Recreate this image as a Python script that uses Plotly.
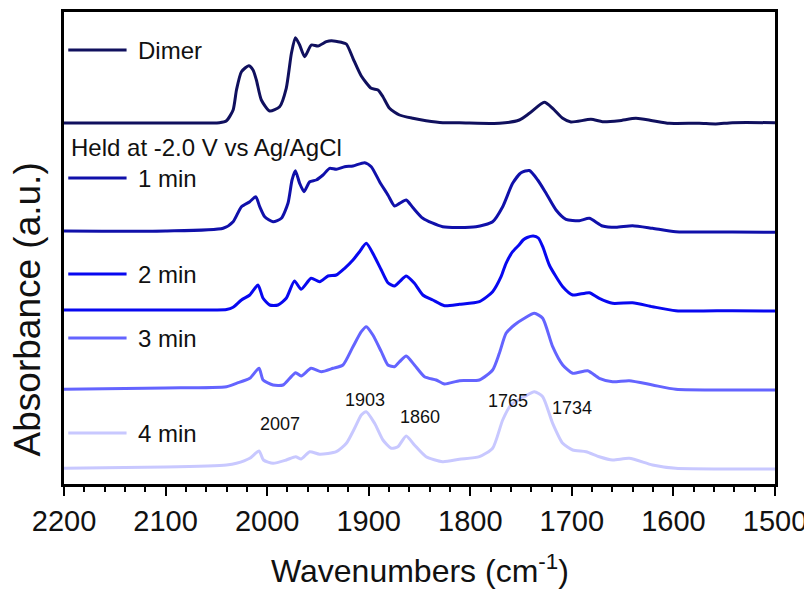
import plotly.graph_objects as go

# ---- data (stacked absorbance, arbitrary units) ----
dimer_wn = [2200, 2100, 2047, 2040, 2033.5, 2030.2, 2025.3, 2018.1, 2013.9, 2010.6, 2005.7, 1997.5, 1987.7, 1981.2,
            1976.1, 1972.2, 1968, 1963.1, 1956.5, 1950, 1941.7, 1936.8, 1927, 1922, 1915.5, 1907.3, 1897.5, 1890.9,
            1886, 1879.5, 1869.7, 1856.6, 1843.5, 1827, 1810.7, 1771.3, 1751.7, 1741.8, 1727.1, 1718.9, 1709,
            1700.9, 1681.2, 1669.8, 1653.4, 1636.9, 1620.6, 1604.2, 1574.7, 1558.3, 1542, 1500]
dimer_abs = [3.61, 3.61, 3.613, 3.633, 3.74, 3.94, 4.123, 4.183, 4.14, 4.04, 3.84, 3.73, 3.773, 3.957,
             4.307, 4.463, 4.39, 4.273, 4.39, 4.38, 4.423, 4.433, 4.417, 4.40, 4.257, 4.08, 3.957, 3.94,
             3.873, 3.757, 3.69, 3.657, 3.633, 3.613, 3.613, 3.607, 3.64, 3.707, 3.817, 3.757, 3.657,
             3.62, 3.647, 3.623, 3.633, 3.657, 3.633, 3.607, 3.607, 3.60, 3.613, 3.613]

min1_wn = [2200, 2100, 2043.3, 2033.5, 2025.3, 2017.1, 2011.2, 2007.3, 2002.4, 1994.2, 1986, 1979.5, 1975.5,
           1972.2, 1968, 1963.7, 1958.1, 1951.6, 1945, 1938.5, 1931.9, 1923.7, 1915.5, 1904, 1897.5, 1889.3,
           1881.1, 1874.6, 1869.6, 1863.1, 1856.6, 1846.7, 1827.2, 1794.4, 1778, 1768.1, 1758.3, 1750, 1741.8,
           1733.6, 1725.4, 1715.6, 1705.8, 1692.7, 1682.8, 1669.8, 1656.6, 1640.3, 1620.6, 1597.7, 1542, 1500]
min1_abs = [2.53, 2.53, 2.557, 2.623, 2.773, 2.823, 2.873, 2.773, 2.673, 2.623, 2.657, 2.807, 3.04,
            3.133, 3.007, 2.923, 3.023, 3.04, 3.09, 3.157, 3.147, 3.173, 3.18, 3.213, 3.173, 3.023,
            2.89, 2.78, 2.807, 2.84, 2.765, 2.657, 2.573, 2.573, 2.623, 2.773, 3.007, 3.113, 3.135,
            3.04, 2.907, 2.74, 2.647, 2.633, 2.657, 2.58, 2.567, 2.583, 2.557, 2.523, 2.52, 2.517]

min2_wn = [2200, 2100, 2040, 2033.5, 2025.3, 2017.1, 2009, 2004, 1997.5, 1989.3, 1981.2, 1973.1, 1966.5,
           1956.7, 1948.3, 1940.1, 1931.9, 1923.7, 1915.5, 1909, 1902.4, 1894.2, 1887.6, 1881.1, 1874.6,
           1869.6, 1863.1, 1855, 1846.7, 1836.9, 1825.4, 1810.7, 1791, 1778, 1769.7, 1764.8, 1758.3, 1752,
           1748, 1744, 1738, 1733, 1728.7, 1722.2, 1716, 1709, 1699.2, 1682.8, 1673, 1659.9, 1640.3, 1620.6,
           1597.7, 1542, 1500]
min2_abs = [1.74, 1.74, 1.745, 1.767, 1.84, 1.89, 1.99, 1.857, 1.79, 1.79, 1.857, 2.03, 1.947,
            2.057, 2.023, 2.08, 2.09, 2.157, 2.24, 2.323, 2.407, 2.273, 2.14, 2.013, 1.98,
            2.023, 2.08, 2.007, 1.89, 1.84, 1.783, 1.797, 1.823, 1.923, 2.073, 2.207, 2.323, 2.39,
            2.44, 2.465, 2.48, 2.46, 2.373, 2.19, 2.08, 1.973, 1.89, 1.913, 1.857, 1.807, 1.813, 1.773,
            1.733, 1.733, 1.73]

min3_wn = [2200, 2100, 2040, 2030.2, 2017.1, 2008, 2004, 1994.2, 1984.4, 1977.8, 1971.9, 1966.5, 1956.7,
           1946.6, 1935.2, 1925.4, 1915.5, 1907.3, 1902.4, 1895.9, 1887.6, 1881.1, 1874.6, 1869.6, 1863.1,
           1855, 1845.1, 1833.6, 1825.4, 1810.7, 1791, 1778, 1771.3, 1764.8, 1756.6, 1746.7, 1736.9, 1728.7,
           1718.9, 1709, 1699.2, 1684.4, 1673, 1659.9, 1643.5, 1620.6, 1597.7, 1542, 1500]
min3_abs = [0.947, 0.96, 0.973, 1.007, 1.057, 1.157, 1.04, 0.99, 0.99, 1.057, 1.113, 1.08, 1.157,
            1.123, 1.157, 1.19, 1.373, 1.523, 1.573, 1.49, 1.323, 1.19, 1.173, 1.223, 1.28,
            1.19, 1.073, 1.04, 1.0, 1.033, 1.04, 1.14, 1.31, 1.507, 1.59, 1.657, 1.707, 1.657,
            1.373, 1.19, 1.107, 1.133, 1.057, 1.023, 1.033, 0.99, 0.947, 0.94, 0.94]

min4_wn = [2200, 2100, 2040, 2030.2, 2017.1, 2008, 2003.6, 1994.2, 1981.2, 1971.9, 1966.5, 1958.1, 1948.3,
           1931.9, 1922, 1913.9, 1907.3, 1902.4, 1894.2, 1886, 1877.8, 1871.3, 1863.1, 1855, 1843.5, 1827.2,
           1810.7, 1791, 1778, 1768.1, 1760, 1746.7, 1736.9, 1728.7, 1718.9, 1709, 1699.2, 1686, 1673,
           1659.9, 1643.5, 1620.6, 1597.7, 1542, 1500]
min4_abs = [0.157, 0.17, 0.19, 0.207, 0.257, 0.33, 0.24, 0.207, 0.24, 0.273, 0.25, 0.323, 0.297,
            0.323, 0.407, 0.557, 0.69, 0.723, 0.607, 0.44, 0.357, 0.373, 0.48, 0.39, 0.273, 0.223,
            0.247, 0.273, 0.357, 0.64, 0.79, 0.873, 0.923, 0.873, 0.607, 0.407, 0.34, 0.323, 0.273,
            0.24, 0.257, 0.19, 0.157, 0.15, 0.15]

series_names = ["Dimer", "1 min", "2 min", "3 min", "4 min"]
series_colors = ["#10105e", "#1010aa", "#0808f0", "#6464ff", "#c8c8ff"]
legend_y = [4.34, 3.06, 2.10, 1.46, 0.51]

peak_labels = ["2007", "1903", "1860", "1765", "1734"]
peak_label_x = [1987.3, 1903.7, 1849.5, 1763.2, 1699.9]
peak_label_y = [0.60, 0.84, 0.67, 0.833, 0.76]

x_ticks = [2200, 2100, 2000, 1900, 1800, 1700, 1600, 1500]

FONT = "Liberation Sans, Arial, sans-serif"

fig = go.Figure()
series = [(dimer_wn, dimer_abs), (min1_wn, min1_abs), (min2_wn, min2_abs),
          (min3_wn, min3_abs), (min4_wn, min4_abs)]
for (wn, ab), name, col in zip(series, series_names, series_colors):
    fig.add_trace(go.Scatter(x=wn, y=ab, mode="lines", name=name,
                             line=dict(color=col, width=3, shape="spline", smoothing=0.6),
                             showlegend=False, hoverinfo="skip"))

# manual legend
for name, col, ly in zip(series_names, series_colors, legend_y):
    fig.add_shape(type="line", xref="paper", yref="y", x0=0.006, x1=0.088, y0=ly, y1=ly,
                  line=dict(color=col, width=3))
    fig.add_annotation(xref="paper", yref="y", x=0.101, y=ly, text=name, showarrow=False,
                       xanchor="left", yanchor="middle", font=dict(family=FONT, size=24, color="#111"))

fig.add_annotation(xref="paper", yref="y", x=0.007, y=3.37, text="Held at -2.0 V vs Ag/AgCl",
                   showarrow=False, xanchor="left", yanchor="middle",
                   font=dict(family=FONT, size=24, color="#111"))

for t, px_, py_ in zip(peak_labels, peak_label_x, peak_label_y):
    fig.add_annotation(x=px_, y=py_, text=t, showarrow=False, xanchor="center", yanchor="middle",
                       font=dict(family=FONT, size=18, color="#111"))

# axis titles
fig.add_annotation(xref="paper", yref="paper", x=0.5, y=-0.181, text="Wavenumbers (cm<sup>-1</sup>)",
                   showarrow=False, xanchor="center", yanchor="middle",
                   font=dict(family=FONT, size=32, color="#111"))
fig.add_annotation(xref="paper", yref="paper", x=-0.052, y=0.37, text="Absorbance (a.u.)",
                   showarrow=False, xanchor="center", yanchor="middle", textangle=-90,
                   font=dict(family=FONT, size=37, color="#111"))

# the page body adds an 8px offset, so the figure is 804x581
fig.update_layout(
    width=804, height=581,
    margin=dict(l=56, r=37, t=4, b=105, autoexpand=False),
    paper_bgcolor="white", plot_bgcolor="white",
    font=dict(family=FONT, color="#111"),
    showlegend=False,
)
fig.update_xaxes(
    range=[2200, 1500], tickvals=x_ticks, ticktext=[str(v) for v in x_ticks],
    ticks="outside", ticklen=9, tickwidth=2, tickcolor="black",
    minor=dict(dtick=20, ticks="outside", ticklen=5, tickwidth=2, tickcolor="black"),
    showline=True, linewidth=2.5, linecolor="black", mirror=True,
    showgrid=False, zeroline=False, automargin=False,
    tickfont=dict(family=FONT, size=29, color="#111"),
)
fig.update_yaxes(
    range=[0, 4.72], showticklabels=False, ticks="",
    showline=True, linewidth=2.5, linecolor="black", mirror=True,
    showgrid=False, zeroline=False, automargin=False,
)

fig.write_html("out.html")
